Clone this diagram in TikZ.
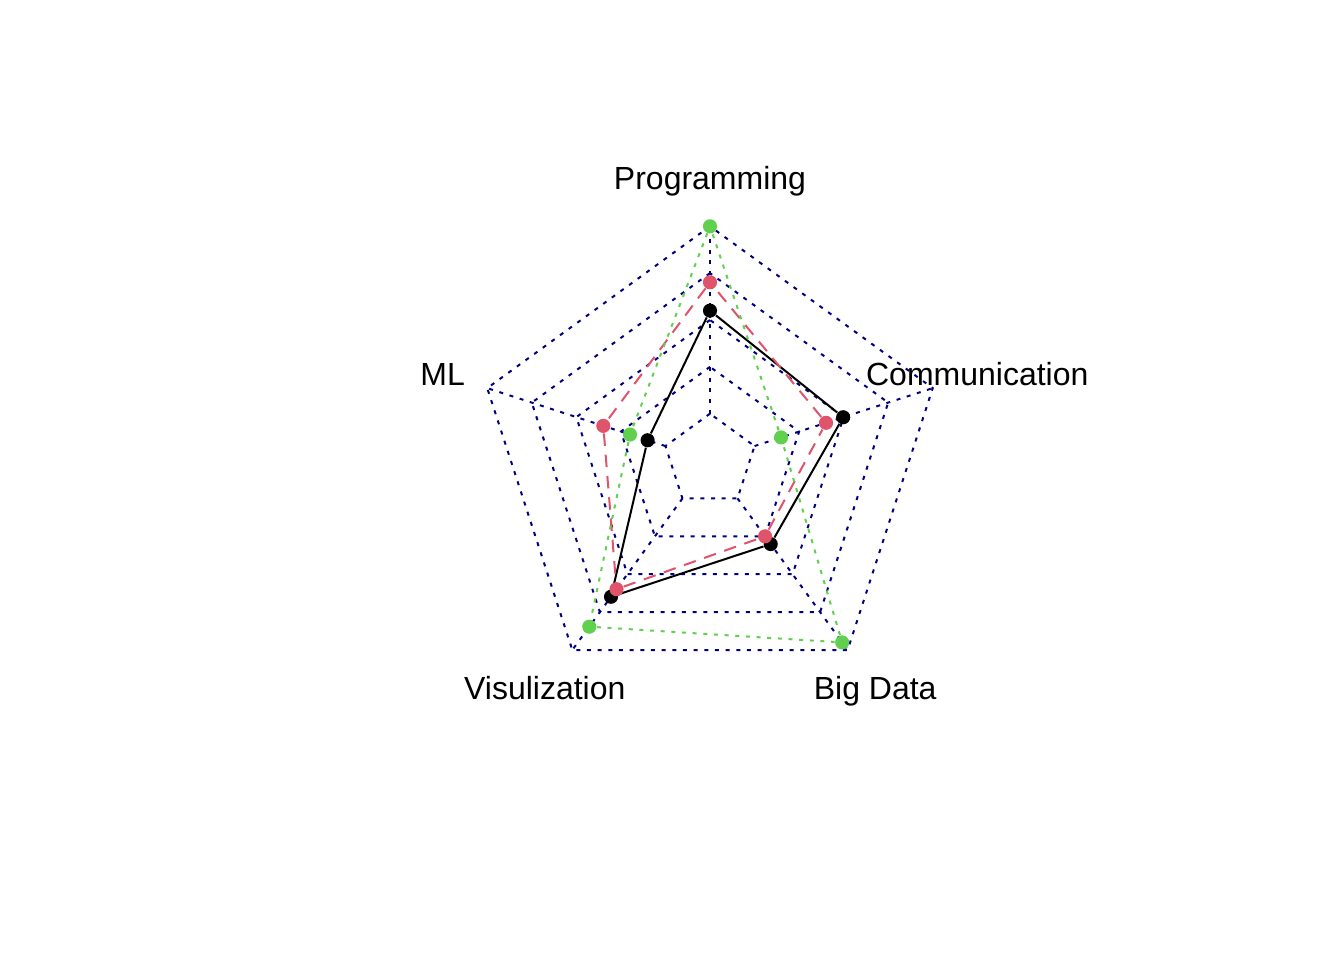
\documentclass[tikz,border=0pt]{standalone}
\usepackage{fontspec}
\setmainfont{Liberation Sans}
\definecolor{gridblue}{RGB}{0,0,128}
\definecolor{sred}{HTML}{DF536B}
\definecolor{sgreen}{HTML}{61D04F}

\begin{document}
\begin{tikzpicture}[x=87.83pt, y=87.83pt]
    \tikzstyle{gline} = [draw=gridblue, line width=0.75pt, dash pattern=on 1.5pt off 2.5pt]
    \tikzstyle{dnode} = [circle, inner sep=0pt, minimum size=5.3pt]
    \tikzstyle{lnode} = [inner sep=0pt, text height=8.6pt, text depth=0pt, font=\fontsize{12pt}{14pt}\selectfont]
    \useasboundingbox (-266.25pt,-187.31pt) rectangle (237.75pt,172.69pt);

    % grid rings and axes
    \foreach \r in {0.2,0.4,0.6,0.8,1.0}
      \draw[gline] (90:\r) -- (162:\r) -- (234:\r) -- (306:\r) -- (18:\r) -- cycle;
    \foreach \a in {90,162,234,306,18}
      \draw[gline] (\a:0.2) -- (\a:1.0);

    % axis labels
    \node[lnode] (prog) at (90:1.207) {Programming};
    \node[lnode] (ml) at (162:1.2) {ML};
    \node[lnode] (vis) at (234:1.2) {Visulization};
    \node[lnode] (big) at (306:1.2) {Big Data};
    \node[lnode] (comm) at (18:1.2) {Communication};

    % series 1
    \node[dnode, fill=black] (d11) at (90:0.64) {};
    \node[dnode, fill=black] (d12) at (162:0.28) {};
    \node[dnode, fill=black] (d13) at (234:0.719) {};
    \node[dnode, fill=black] (d14) at (306:0.441) {};
    \node[dnode, fill=black] (d15) at (18:0.598) {};
    \draw[black, line width=0.75pt] (d11) -- (d12) -- (d13) -- (d14) -- (d15) -- (d11);

    % series 2
    \node[dnode, fill=sred] (d21) at (90:0.761) {};
    \node[dnode, fill=sred] (d22) at (162:0.479) {};
    \node[dnode, fill=sred] (d23) at (234:0.679) {};
    \node[dnode, fill=sred] (d24) at (306:0.40) {};
    \node[dnode, fill=sred] (d25) at (18:0.521) {};
    \draw[sred, line width=0.75pt, dash pattern=on 4.7pt off 3.3pt] (d21) -- (d22) -- (d23) -- (d24) -- (d25) -- (d21);

    % series 3
    \node[dnode, fill=sgreen] (d31) at (90:1.0) {};
    \node[dnode, fill=sgreen] (d32) at (162:0.359) {};
    \node[dnode, fill=sgreen] (d33) at (234:0.877) {};
    \node[dnode, fill=sgreen] (d34) at (306:0.96) {};
    \node[dnode, fill=sgreen] (d35) at (18:0.319) {};
    \draw[sgreen, line width=0.75pt, dash pattern=on 1.5pt off 2.5pt] (d31) -- (d32) -- (d33) -- (d34) -- (d35) -- (d31);
\end{tikzpicture}
\end{document}
